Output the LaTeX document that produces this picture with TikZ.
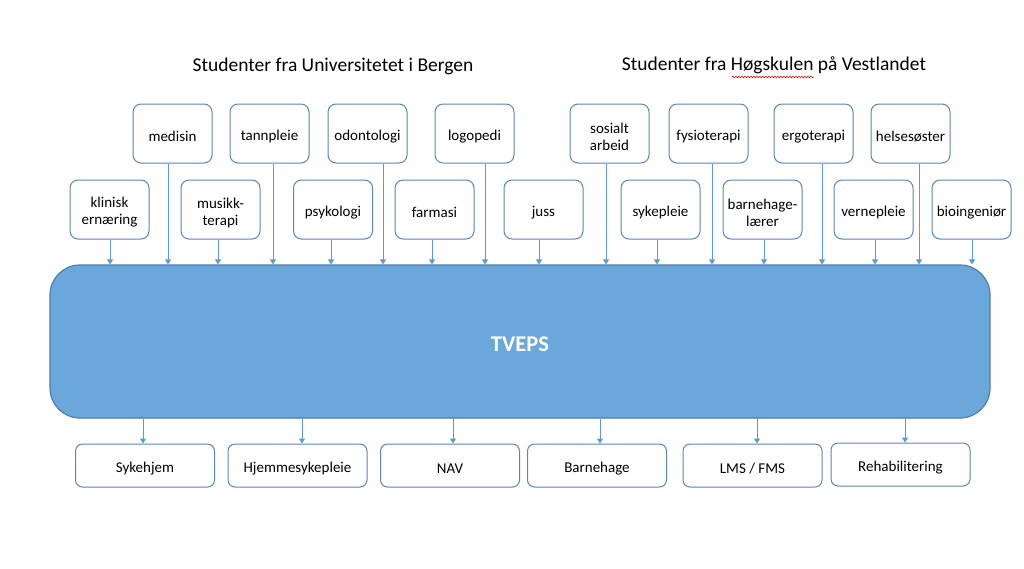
\documentclass[tikz,border=0pt]{standalone}
\usepackage{fontspec}
\setmainfont{Carlito}
\usetikzlibrary{arrows.meta,decorations.pathmorphing}
\definecolor{boxc}{HTML}{5A85B8}
\definecolor{arrc}{HTML}{5B9BD5}
\definecolor{bigfill}{HTML}{6AA8DB}
\definecolor{bigdraw}{HTML}{4A7DB0}
\tikzset{
  fach/.style={draw=boxc, line width=1pt, rounded corners=8pt, fill=white,
    minimum width=79pt, minimum height=59pt, inner sep=0pt},
  place/.style={draw=boxc, line width=1pt, rounded corners=7pt, fill=white,
    minimum width=139pt, minimum height=43pt, inner sep=0pt},
  lbl/.style={align=center, inner sep=0pt, yshift=-3pt,
    font=\fontsize{15}{17}\selectfont},
  arr/.style={draw=arrc, line width=1pt, -{Triangle[width=6pt,length=5pt]}},
  ttl/.style={font=\fontsize{19.5}{22}\selectfont, inner sep=0pt}
}
\newcommand\fachbox[4][fach]{\node[#1, label={[lbl]center:{#4}}] (#2) at (#3) {};}
\begin{document}
\begin{tikzpicture}[x=1pt,y=-1pt]
\useasboundingbox (0,0) rectangle (1024,568);
\node[ttl] (t1) at (333,66.5) {Studenter fra Universitetet i Bergen};
\node[ttl] (t2) at (774,65.5) {Studenter fra Høgskulen på Vestlandet};
\draw[red, line width=0.6pt, decorate, decoration={snake, amplitude=0.8pt, segment length=3pt}] (732,77) -- (814,77);

\node[draw=bigdraw, line width=1.2pt, fill=bigfill, rounded corners=30pt,
  minimum width=940pt, minimum height=153pt] (tveps) at (520,341.5) {};
\node[text=white, inner sep=0pt, font=\fontsize{22.5}{26}\selectfont\bfseries] (tvepslbl) at (520,344) {TVEPS};

% upper row
\fachbox{medisin}{172.5,133.5}{medisin}
\fachbox{tann}{269.5,133.5}{tannpleie}
\fachbox{odont}{367.5,133.5}{odontologi}
\fachbox{logo}{474.5,133.5}{logopedi}
\fachbox{sos}{609.5,133.5}{sosialt\\arbeid}
\fachbox{fysio}{708.5,133.5}{fysioterapi}
\fachbox{ergo}{813.5,133.5}{ergoterapi}
\fachbox{helse}{910.5,133.5}{helsesøster}
% lower row
\fachbox{klin}{109.5,209.5}{klinisk\\ernæring}
\fachbox{musikk}{220.5,209.5}{musikk-\\terapi}
\fachbox{psyk}{333,209.5}{psykologi}
\fachbox{farm}{434.5,209.5}{farmasi}
\fachbox{juss}{543.5,209.5}{juss}
\fachbox{syk}{660.5,209.5}{sykepleie}
\fachbox{barn}{762.5,209.5}{barnehage-\\lærer}
\fachbox{verne}{873.5,209.5}{vernepleie}
\fachbox{bio}{971.5,209.5}{bioingeniør}

% arrows into TVEPS
\foreach \n/\s in {medisin/-4.5, tann/3.5, odont/15.5, logo/10.5, sos/-3.5, fysio/3.5, ergo/8.5, helse/8.5,
  klin/0.5, musikk/-2.5, psyk/-2, farm/-2.5, juss/-4.5, syk/-3.5, barn/1.5, verne/1.5, bio/0.5}
  \draw[arr] ([xshift=\s pt]\n.south) -- ([xshift=\s pt]\n.south |- tveps.north);

% bottom row
\fachbox[place]{sykehjem}{145,465.5}{Sykehjem}
\fachbox[place]{hjemme}{297.5,465.5}{Hjemmesykepleie}
\fachbox[place]{nav}{450,465.5}{NAV}
\fachbox[place]{barnehage}{597,465.5}{Barnehage}
\fachbox[place]{lms}{752.5,465.5}{LMS / FMS}
\fachbox[place]{rehab}{900.5,464.5}{Rehabilitering}

\foreach \n/\s in {sykehjem/-2, hjemme/4.5, nav/3, barnehage/3, lms/4.5, rehab/4.5}
  \draw[arr] ([xshift=\s pt]\n.north |- tveps.south) -- ([xshift=\s pt]\n.north);
\end{tikzpicture}
\end{document}
